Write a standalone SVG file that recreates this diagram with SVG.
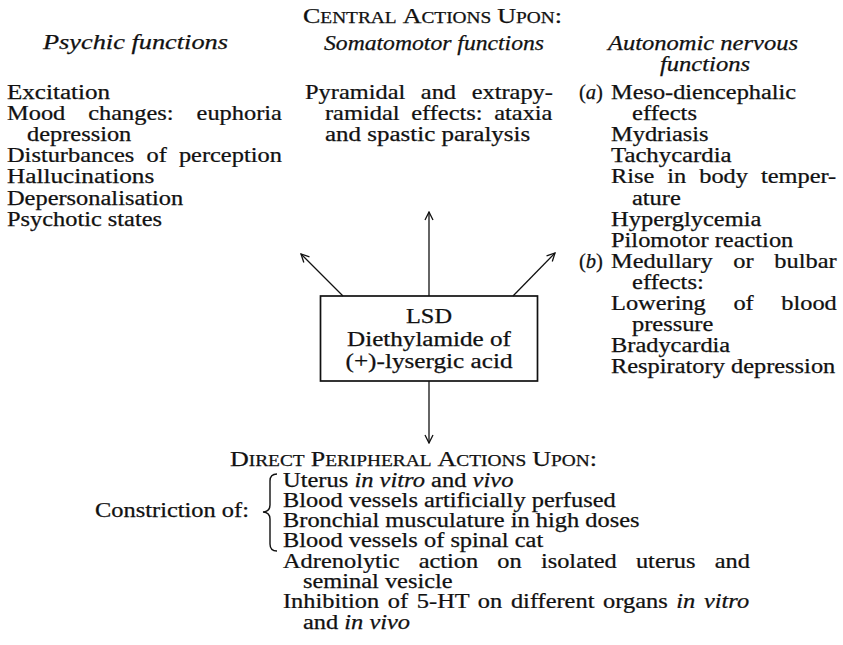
<svg xmlns="http://www.w3.org/2000/svg" width="843" height="645" viewBox="0 0 843 645">
<defs>
<style>
text{font-family:"Liberation Serif","Times New Roman",serif;font-size:20px;fill:#111;stroke:#111;stroke-width:0.25}
.it{font-style:italic}
.sc{font-size:16px}
.cap{font-size:21.5px}
.ln{stroke:#111;stroke-width:1.3;fill:none}
</style>
<marker id="ah" viewBox="0 0 10 10" refX="9" refY="5" markerWidth="10" markerHeight="10" markerUnits="userSpaceOnUse" orient="auto">
<path d="M1,1 L9,5 L1,9" fill="none" stroke="#111" stroke-width="1.3"/>
</marker>
</defs>
<rect width="843" height="645" fill="#fff"/>

<g id="central-title">
<text x="303" y="22.5" textLength="259" lengthAdjust="spacingAndGlyphs"><tspan class="cap">C</tspan><tspan class="sc">ENTRAL</tspan> <tspan class="cap">A</tspan><tspan class="sc">CTIONS</tspan> <tspan class="cap">U</tspan><tspan class="sc">PON</tspan><tspan class="cap">:</tspan></text>
</g>

<g id="psychic">
<text class="it" x="43" y="49" textLength="185" lengthAdjust="spacingAndGlyphs">Psychic functions</text>
<text x="7" y="99" textLength="103" lengthAdjust="spacingAndGlyphs">Excitation</text>
<text transform="translate(7 120.1) scale(1.22 1)" word-spacing="13.85">Mood changes: euphoria</text>
<text x="27" y="141.2" textLength="104.3" lengthAdjust="spacingAndGlyphs">depression</text>
<text transform="translate(7 162.3) scale(1.22 1)" word-spacing="4.95">Disturbances of perception</text>
<text x="7" y="183.4" textLength="147.2" lengthAdjust="spacingAndGlyphs">Hallucinations</text>
<text x="7" y="204.5" textLength="176.2" lengthAdjust="spacingAndGlyphs">Depersonalisation</text>
<text x="7" y="225.6" textLength="155" lengthAdjust="spacingAndGlyphs">Psychotic states</text>
</g>

<g id="somatomotor">
<text class="it" x="324" y="49.5" textLength="220" lengthAdjust="spacingAndGlyphs">Somatomotor functions</text>
<text transform="translate(305 99) scale(1.22 1)" word-spacing="7.8">Pyramidal and extrapy-</text>
<text transform="translate(325 120.1) scale(1.22 1)" word-spacing="4.6">ramidal effects: ataxia</text>
<text x="325" y="141.2" textLength="205.2" lengthAdjust="spacingAndGlyphs">and spastic paralysis</text>
</g>

<g id="autonomic">
<text class="it" x="608" y="49.5" textLength="190" lengthAdjust="spacingAndGlyphs">Autonomic nervous</text>
<text class="it" x="660" y="70.5" textLength="90" lengthAdjust="spacingAndGlyphs">functions</text>
<text x="579" y="99" textLength="24" lengthAdjust="spacingAndGlyphs">(<tspan class="it">a</tspan>)</text>
<text x="611" y="99" textLength="185.1" lengthAdjust="spacingAndGlyphs">Meso-diencephalic</text>
<text x="632" y="120.1" textLength="65" lengthAdjust="spacingAndGlyphs">effects</text>
<text x="611" y="141.2" textLength="97.6" lengthAdjust="spacingAndGlyphs">Mydriasis</text>
<text x="611" y="162.3" textLength="120.6" lengthAdjust="spacingAndGlyphs">Tachycardia</text>
<text transform="translate(611 183.4) scale(1.22 1)" word-spacing="5.6">Rise in body temper-</text>
<text x="632" y="204.5" textLength="48.8" lengthAdjust="spacingAndGlyphs">ature</text>
<text x="611" y="225.6" textLength="150.4" lengthAdjust="spacingAndGlyphs">Hyperglycemia</text>
<text x="611" y="246.7" textLength="182.3" lengthAdjust="spacingAndGlyphs">Pilomotor reaction</text>
<text x="579" y="267.8" textLength="24" lengthAdjust="spacingAndGlyphs">(<tspan class="it">b</tspan>)</text>
<text transform="translate(611 267.8) scale(1.22 1)" word-spacing="12">Medullary or bulbar</text>
<text x="632" y="288.9" textLength="71.8" lengthAdjust="spacingAndGlyphs">effects:</text>
<text transform="translate(611 310) scale(1.22 1)" word-spacing="17.6">Lowering of blood</text>
<text x="632" y="331.1" textLength="81.3" lengthAdjust="spacingAndGlyphs">pressure</text>
<text x="611" y="352.2" textLength="119.2" lengthAdjust="spacingAndGlyphs">Bradycardia</text>
<text x="611" y="373.3" textLength="224.3" lengthAdjust="spacingAndGlyphs">Respiratory depression</text>
</g>

<g id="lsd">
<rect x="320.5" y="296" width="217" height="85" fill="none" stroke="#111" stroke-width="1.7"/>
<text x="429" y="322.5" text-anchor="middle" textLength="46" lengthAdjust="spacingAndGlyphs">LSD</text>
<text x="429" y="345.5" text-anchor="middle" textLength="164" lengthAdjust="spacingAndGlyphs">Diethylamide of</text>
<text x="429" y="368" text-anchor="middle" textLength="167" lengthAdjust="spacingAndGlyphs">(+)-lysergic acid</text>
</g>

<g id="connectors">
<line class="ln" x1="429" y1="296" x2="429" y2="212" marker-end="url(#ah)"/>
<line class="ln" x1="343" y1="296" x2="301" y2="254" marker-end="url(#ah)"/>
<line class="ln" x1="513" y1="296" x2="555" y2="253" marker-end="url(#ah)"/>
<line class="ln" x1="429" y1="381" x2="429" y2="443" marker-end="url(#ah)"/>
</g>

<g id="peripheral">
<text x="230" y="465.5" textLength="367" lengthAdjust="spacingAndGlyphs"><tspan class="cap">D</tspan><tspan class="sc">IRECT</tspan> <tspan class="cap">P</tspan><tspan class="sc">ERIPHERAL</tspan> <tspan class="cap">A</tspan><tspan class="sc">CTIONS</tspan> <tspan class="cap">U</tspan><tspan class="sc">PON</tspan><tspan class="cap">:</tspan></text>
<text x="95" y="517" textLength="154" lengthAdjust="spacingAndGlyphs">Constriction of:</text>
<path d="M277,474 Q270,474 270,481 L270,505 Q270,511.5 263,512 Q270,512.5 270,519 L270,544 Q270,551 277,551" fill="none" stroke="#111" stroke-width="1.4"/>
<text x="283" y="486.5" textLength="230.4" lengthAdjust="spacingAndGlyphs">Uterus <tspan class="it">in vitro</tspan> and <tspan class="it">vivo</tspan></text>
<text x="283" y="506.8" textLength="332.7" lengthAdjust="spacingAndGlyphs">Blood vessels artificially perfused</text>
<text x="283" y="527.1" textLength="356.5" lengthAdjust="spacingAndGlyphs">Bronchial musculature in high doses</text>
<text x="283" y="547.4" textLength="260.2" lengthAdjust="spacingAndGlyphs">Blood vessels of spinal cat</text>
<text transform="translate(283 567.7) scale(1.22 1)" word-spacing="10.7">Adrenolytic action on isolated uterus and</text>
<text x="303" y="588" textLength="149.6" lengthAdjust="spacingAndGlyphs">seminal vesicle</text>
<text transform="translate(283 608.3) scale(1.22 1)" word-spacing="2.1">Inhibition of 5-HT on different organs <tspan class="it">in vitro</tspan></text>
<text x="303" y="628.6" textLength="107.1" lengthAdjust="spacingAndGlyphs">and <tspan class="it">in vivo</tspan></text>
</g>
</svg>
